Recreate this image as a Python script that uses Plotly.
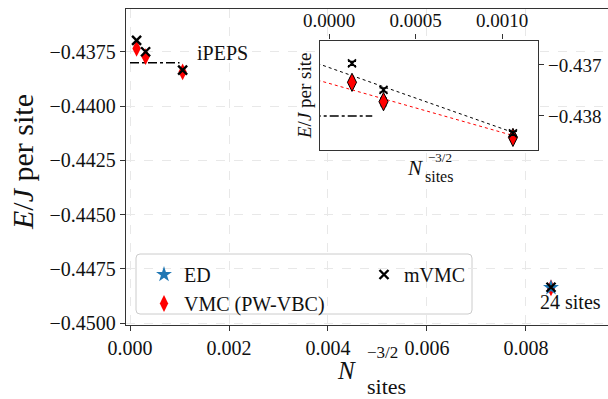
import plotly.graph_objects as go

# ---------------- data ----------------
mvmc_sites = [384, 216, 96, 24]
mvmc_energy = [-0.43697, -0.43749, -0.43834, -0.44835]
mvmc_error = [0.00004, 0.00004, 0.00004, 0.00003]

vmc_sites = [384, 216, 96, 24]
vmc_energy = [-0.43734, -0.43772, -0.43842, -0.44838]
vmc_error = [0.00008, 0.00008, 0.00005, 0.00003]

ed_sites = [24]
ed_energy = [-0.44837]

ipeps_energy = -0.4380
ipeps_main_x = [0.0, 0.001]
ipeps_inset_x = [-0.0001, 0.00025]

fit_colors_names = ["mVMC", "VMC"]
fit_intercept = [-0.43705, -0.43736]
fit_slope = [-1.196, -0.962]
fit_x = [-0.0001, 0.00107]

main_xticks = [0.0, 0.002, 0.004, 0.006, 0.008]
main_yticks = [-0.4375, -0.4400, -0.4425, -0.4450, -0.4475, -0.4500]
inset_xticks = [0.0, 0.0005, 0.0010]
inset_yticks = [-0.437, -0.438]

main_xrange = [-0.0000808, 0.009657]
main_yrange = [-0.45009, -0.43552]
inset_xrange = [-0.000052, 0.001208]
inset_yrange = [-0.438667, -0.43652]


def inv32(sites):
    return [n ** -1.5 for n in sites]


# ---------------- geometry helpers (pixel -> paper) ----------------
W, H = 608, 399
L, R, T, B = 126, 608, 9, 325


def px(x):
    return (x - L) / (R - L)


def py(y):
    return (B - y) / (B - T)


FONT = "Liberation Serif"
AXC = "#333333"

fig = go.Figure()

# ---------------- main axes ----------------
fig.add_trace(go.Scatter(
    x=ipeps_main_x, y=[ipeps_energy] * len(ipeps_main_x), mode="lines",
    line=dict(color="black", width=1.5, dash="dashdot"), showlegend=False,
    hoverinfo="skip"))

fig.add_trace(go.Scatter(
    x=inv32(vmc_sites), y=vmc_energy, mode="markers", name="VMC (PW-VBC)",
    marker=dict(symbol="diamond-tall", size=12, color="red", line=dict(width=0)),
    error_y=dict(type="data", array=vmc_error, color="red", thickness=1, width=0),
    legend="legend", legendrank=2))

fig.add_trace(go.Scatter(
    x=inv32(ed_sites), y=ed_energy, mode="markers", name="ED",
    marker=dict(symbol="star", size=12, color="#1f77b4", line=dict(width=0)),
    legend="legend", legendrank=1))

fig.add_trace(go.Scatter(
    x=inv32(mvmc_sites), y=mvmc_energy, mode="markers", name="mVMC",
    marker=dict(symbol="x-thin", size=9, color="black",
                line=dict(width=2.4, color="black")),
    legend="legend2"))

# ---------------- inset ----------------
for b0, m, col in zip(fit_intercept, fit_slope, ["black", "red"]):
    fig.add_trace(go.Scatter(
        x=fit_x, y=[b0 + m * xx for xx in fit_x], mode="lines",
        line=dict(color=col, width=1, dash="dot"), showlegend=False,
        xaxis="x2", yaxis="y2", hoverinfo="skip"))

fig.add_trace(go.Scatter(
    x=ipeps_inset_x, y=[ipeps_energy] * len(ipeps_inset_x), mode="lines",
    line=dict(color="black", width=1.5, dash="dashdot"), showlegend=False,
    xaxis="x2", yaxis="y2", hoverinfo="skip"))

fig.add_trace(go.Scatter(
    x=inv32(vmc_sites[:3]), y=vmc_energy[:3], mode="markers",
    marker=dict(symbol="diamond-tall", size=13, color="red",
                line=dict(width=1, color="black")),
    error_y=dict(type="data", array=vmc_error[:3], color="black", thickness=1.2, width=3),
    showlegend=False, xaxis="x2", yaxis="y2"))

fig.add_trace(go.Scatter(
    x=inv32(mvmc_sites[:3]), y=mvmc_energy[:3], mode="markers",
    marker=dict(symbol="x-thin", size=8, color="black",
                line=dict(width=1.8, color="black")),
    error_y=dict(type="data", array=mvmc_error[:3], color="black", thickness=1.2, width=4),
    showlegend=False, xaxis="x2", yaxis="y2"))

# ---------------- legend box (rounded) ----------------
bx0, by0, bx1, by1, rr = 136, 254, 472, 314, 4
X0, X1 = px(bx0), px(bx1)
Y0, Y1 = py(by1), py(by0)
rx, ry = rr / (R - L), rr / (B - T)
path = (f"M {X0+rx},{Y0} L {X1-rx},{Y0} Q {X1},{Y0} {X1},{Y0+ry} "
        f"L {X1},{Y1-ry} Q {X1},{Y1} {X1-rx},{Y1} L {X0+rx},{Y1} "
        f"Q {X0},{Y1} {X0},{Y1-ry} L {X0},{Y0+ry} Q {X0},{Y0} {X0+rx},{Y0} Z")

axis_common = dict(
    ticks="outside", ticklen=5, tickwidth=1.2, tickcolor=AXC,
    showline=True, linecolor=AXC, linewidth=1.3, zeroline=False,
    tickfont=dict(family=FONT, size=20, color="#111"),
)

fig.update_layout(
    width=W, height=H,
    margin=dict(l=L, r=W - R, t=T, b=H - B, autoexpand=False),
    paper_bgcolor="white", plot_bgcolor="white",
    font=dict(family=FONT, color="#111"),
    xaxis=dict(domain=[0, 1], range=main_xrange, tickvals=main_xticks,
               ticktext=[f"{v:.3f}" for v in main_xticks], mirror=True,
               showgrid=True, gridcolor="#e8e8e8", griddash="dash", gridwidth=1,
               **axis_common),
    yaxis=dict(domain=[0, 1], range=main_yrange, tickvals=main_yticks,
               ticktext=[f"{v:.4f}".replace("-", "\u2212") for v in main_yticks],
               mirror=False, showgrid=True, gridcolor="#e8e8e8", griddash="dash",
               gridwidth=1, **axis_common),
    xaxis2=dict(domain=[px(320), px(538)], anchor="y2", side="top",
                range=inset_xrange, tickvals=inset_xticks,
                ticktext=[f"{v:.4f}" for v in inset_xticks], mirror=True,
                showgrid=False, **{**axis_common,
                                   "tickfont": dict(family=FONT, size=19, color="#111")}),
    yaxis2=dict(domain=[py(150), py(40.5)], anchor="x2", side="right",
                range=inset_yrange, tickvals=inset_yticks,
                ticktext=[f"{v:.3f}".replace("-", "\u2212") for v in inset_yticks],
                mirror=True, showgrid=False,
                **{**axis_common, "tickfont": dict(family=FONT, size=19, color="#111")}),
    legend=dict(x=px(144), y=py(255), xanchor="left", yanchor="top",
                bgcolor="rgba(0,0,0,0)", borderwidth=0, tracegroupgap=0,
                font=dict(family=FONT, size=20, color="#111"), itemwidth=30),
    legend2=dict(x=px(364), y=py(255), xanchor="left", yanchor="top",
                 bgcolor="rgba(0,0,0,0)", borderwidth=0,
                 font=dict(family=FONT, size=20, color="#111"), itemwidth=30),
    shapes=[dict(type="path", path=path, xref="paper", yref="paper",
                 fillcolor="rgba(255,255,255,0.85)",
                 line=dict(color="#cccccc", width=1), layer="between")],
    showlegend=True,
)


def ann(text, x, y, size, angle=0, xanchor="center", yanchor="middle"):
    fig.add_annotation(text=text, x=px(x), y=py(y), xref="paper", yref="paper",
                       showarrow=False, textangle=angle, xanchor=xanchor,
                       yanchor=yanchor, borderpad=0,
                       font=dict(family=FONT, size=size, color="#111"))


ann("iPEPS", 196, 53, 20, xanchor="left")
ann("24 sites", 570, 302, 20)
# main axis titles
ann("<i>E</i>/<i>J</i> per site", 22, 162, 30, angle=-90)
ann("<i>N</i>", 346, 370, 25)
ann("\u22123/2", 366, 352, 17, xanchor="left")
ann("sites", 386, 386, 22)
# inset axis titles
ann("<i>E</i>/<i>J</i> per site", 304, 96, 19, angle=-90)
ann("<i>N</i>", 415, 168, 21)
ann("\u22123/2", 427, 157, 13, xanchor="left")
ann("sites", 439, 177, 16)

fig.write_html("out.html")
